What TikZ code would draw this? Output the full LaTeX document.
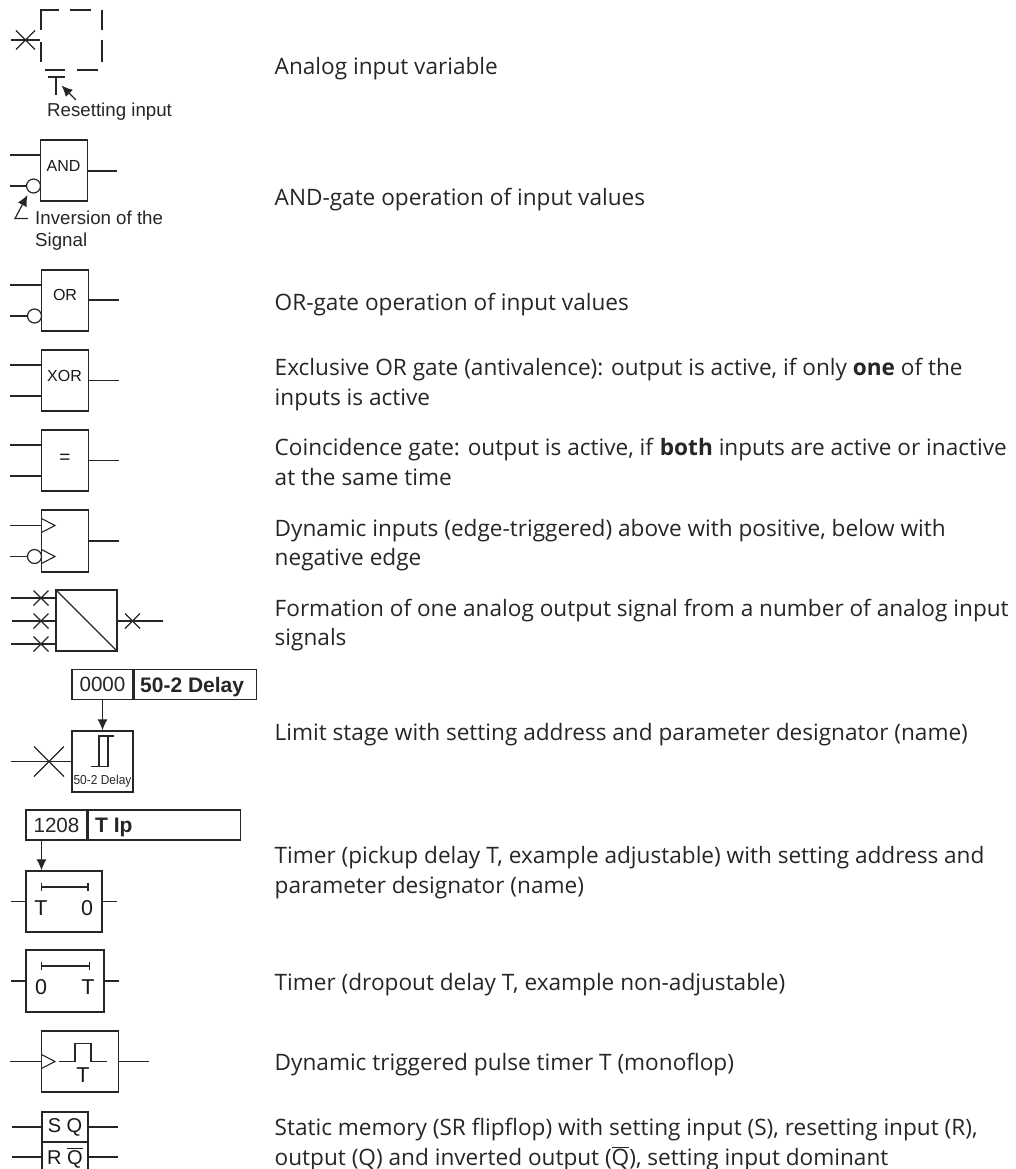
\documentclass[tikz,border=0pt]{standalone}
\usepackage{fontspec}
\setmainfont{Open Sans}
\newfontfamily\symfont{Liberation Sans}
\usetikzlibrary{arrows.meta}
\tikzset{
 x=1pt,y=-1pt,
 gatebox/.style={draw,rectangle,inner sep=0pt,minimum width=#1,minimum height=61pt,line width=1.3pt,font=\symfont\fontsize{16}{16}\selectfont},
 gatebox/.default=46.5pt,
 hdr/.style={draw,rectangle,inner sep=0pt,minimum height=30pt,line width=1.3pt,font=\symfont\fontsize{20.6}{20.6}\selectfont},
 hdrbold/.style={anchor=base west,inner sep=0pt,text=black!85,font=\symfont\bfseries\fontsize{21}{21}\selectfont},
 inv/.style={draw,circle,inner sep=0pt,minimum size=14pt,line width=1.2pt,fill=white},
 desc/.style={anchor=base west,inner sep=0pt,text=black!85,font=\fontsize{22.6}{30}\selectfont},
 note/.style={anchor=base west,inner sep=0pt,text=black!85,font=\symfont\fontsize{18.7}{18.7}\selectfont},
 lbl/.style={inner sep=0pt,text=black!90,font=\symfont\fontsize{21.5}{21.5}\selectfont},
 srlbl/.style={anchor=base,inner sep=0pt,text=black!90,font=\symfont\fontsize{20}{20}\selectfont},
 gatetext/.style={inner sep=0pt,text=black!90,font=\symfont\fontsize{16}{16}\selectfont},
 sig/.style={line width=1.2pt},
 arr/.style={-{Latex[length=11pt,width=10pt]},line width=1.2pt},
}
\newcommand{\xmark}[3]{\draw[sig] (#1-#3,#2-#3) -- (#1+#3,#2+#3) (#1-#3,#2+#3) -- (#1+#3,#2-#3);}
\newcommand{\trig}[2]{\draw[line width=1.1pt] (#1,#2-7) -- (#1+13.5,#2) -- (#1,#2+7);}
\begin{document}
\begin{tikzpicture}[color=black!85]
\useasboundingbox (0,0) rectangle (1016,1169);
\clip (0,0) rectangle (1016,1169);
% --- analog input
\draw[sig] (41,30) -- (41,10) -- (59,10) (70,10) -- (91,10) (102,10) -- (102,30) (102,40) -- (102,62)
  (41,42) -- (41,62) (45,70) -- (65,70) (77,70) -- (98,70);
\coordinate (ai) at (11,40); \coordinate (aiEnd) at (40,40);
\draw[sig] (ai) -- (aiEnd);
\xmark{25.5}{40}{9.5}
\draw[line width=2.4pt] (48,77) -- (65,77);
\coordinate (rs) at (56,77); \coordinate (rsEnd) at (56,95);
\draw[sig] (rs) -- (rsEnd);
\coordinate (ra) at (76,100); \coordinate (rb) at (61.5,85.5);
\draw[arr] (ra) -- (rb);
\node[note] (tReset) at (47,116.5) {Resetting input};
% --- AND
\node[gatebox] (and) at (64,170.5) {};
\node[gatetext] (andT) at (63.5,166) {AND};
\coordinate (a1) at (10,155); \coordinate (a2) at (10,186); \coordinate (a3) at (117,171);
\node[inv] (andI) at (33.5,186) {};
\draw[sig] (a1) -- (a1 -| and.west);
\draw[sig] (a2) -- (andI);
\draw[sig] (a3) -- (a3 -| and.east);
\coordinate (ib) at (28,218.5); \coordinate (ic) at (15,218.5); \coordinate (id) at (27.5,195);
\draw[arr] (ib) -- (ic) -- (id);
\node[note] (tInv) at (35,224) {Inversion of the};
\node[note] (tSig) at (35,246.5) {Signal};
% --- OR
\node[gatebox] (or) at (65,300.5) {};
\node[gatetext] (orT) at (65,295) {OR};
\coordinate (o1) at (10,285); \coordinate (o2) at (10,316); \coordinate (o3) at (119,300);
\node[inv] (orI) at (34.5,316) {};
\draw[sig] (o1) -- (o1 -| or.west);
\draw[sig] (o2) -- (orI);
\draw[sig] (o3) -- (o3 -| or.east);
% --- XOR
\node[gatebox] (xor) at (65,380.5) {};
\node[gatetext] (xorT) at (64.5,376) {XOR};
\coordinate (x1) at (10,365); \coordinate (x2) at (10,396); \coordinate (x3) at (119,380.5);
\draw[sig] (x1) -- (x1 -| xor.west);
\draw[sig] (x2) -- (x2 -| xor.west);
\draw[sig] (x3) -- (x3 -| xor.east);
% --- equal
\node[gatebox] (eq) at (65,460.5) {};
\node[gatetext,font=\symfont\fontsize{19}{19}\selectfont] (eqT) at (65,459) {=};
\coordinate (e1) at (10,445); \coordinate (e2) at (10,476); \coordinate (e3) at (119,460.5);
\draw[sig] (e1) -- (e1 -| eq.west);
\draw[sig] (e2) -- (e2 -| eq.west);
\draw[sig] (e3) -- (e3 -| eq.east);
% --- dynamic inputs
\node[gatebox,minimum height=62pt] (dyn) at (65,541) {};
\coordinate (d1) at (10,525.5); \coordinate (d2) at (10,556.5); \coordinate (d3) at (119,541);
\trig{41.5}{525.5}
\trig{41.5}{556.5}
\node[inv,fill=none] (dynI) at (34.5,556.5) {};
\draw[sig] (d1) -- (d1 -| dyn.west);
\draw[sig] (d2) -- (dynI);
\draw[sig] (d3) -- (d3 -| dyn.east);
% --- converter
\node[gatebox,minimum width=61pt] (conv) at (86.5,620.5) {};
\draw[sig] (conv.north west) -- (conv.south east);
\coordinate (c1) at (11,598); \coordinate (c2) at (12,621); \coordinate (c3) at (11,644); \coordinate (c4) at (163,621);
\draw[sig] (c1) -- (c1 -| conv.west);
\draw[sig] (c2) -- (c2 -| conv.west);
\draw[sig] (c3) -- (c3 -| conv.west);
\draw[sig] (c4) -- (c4 -| conv.east);
\xmark{41}{598}{7.5}
\xmark{41}{621}{7.5}
\xmark{41}{644}{7.5}
\xmark{132.5}{621}{7.5}
% --- limit stage
\node[hdr,minimum width=61pt] (la) at (102.5,684.5) {0000};
\node[hdr,minimum width=122pt,anchor=west] (lb) at (la.east) {};
\node[hdrbold] (lbT) at (140,692) {50-2 Delay};
\node[gatebox,minimum width=61pt] (lim) at (102.5,761.5) {};
\draw[arr] (la) -- (lim);
\coordinate (l1) at (11,761.5);
\draw[sig] (l1) -- (l1 -| lim.west);
\xmark{49}{761.5}{15}
\draw[sig] (91,766.5) -- (108,766.5) -- (108,736) (99,766.5) -- (99,736) -- (114,736);
\node[inner sep=0pt,text=black!85,font=\symfont\fontsize{13}{13}\selectfont,xscale=.92] (limT) at (102.5,781) {50-2 Delay};
% --- pickup timer
\node[hdr,minimum width=61pt] (ta) at (56.5,825) {1208};
\node[hdr,minimum width=152pt,anchor=west] (tb) at (ta.east) {};
\node[hdrbold] (tbT) at (95,832) {T Ip};
\node[gatebox,minimum width=76pt] (pu) at (64,901.5) {};
\coordinate (tc) at (41.5,840);
\draw[arr] (tc) -- (tc |- pu.north);
\coordinate (p1) at (11,901.5); \coordinate (p2) at (117,901.5);
\draw[sig] (p1) -- (p1 -| pu.west);
\draw[sig] (p2) -- (p2 -| pu.east);
\draw[sig] (41.5,883) -- (41.5,891) (41.5,887) -- (88,887) (88,883) -- (88,891);
\node[lbl] (puT) at (41,908) {T};
\node[lbl] (pu0) at (87,908) {0};
% --- dropout timer
\node[gatebox,minimum width=78pt,minimum height=62pt] (dr) at (65,981) {};
\coordinate (r1) at (11,981); \coordinate (r2) at (119,981);
\draw[sig] (r1) -- (r1 -| dr.west);
\draw[sig] (r2) -- (r2 -| dr.east);
\draw[sig] (41.5,962) -- (41.5,970) (41.5,966) -- (89.5,966) (89.5,962) -- (89.5,970);
\node[lbl] (dr0) at (41,987.5) {0};
\node[lbl] (drT) at (88,987.5) {T};
% --- pulse timer
\node[gatebox,minimum width=77pt] (pl) at (80,1061.5) {};
\coordinate (m1) at (10,1061.5); \coordinate (m2) at (149,1061.5);
\draw[sig] (m1) -- (m1 -| pl.west);
\draw[sig] (m2) -- (m2 -| pl.east);
\trig{41.5}{1061.5}
\draw[sig] (59,1061.5) -- (75,1061.5) -- (75,1043.5) -- (91,1043.5) -- (91,1061.5) -- (107,1061.5);
\node[lbl] (plT) at (83,1075) {T};
% --- SR flipflop
\node[hdr,minimum width=46pt] (sq) at (65,1127) {};
\node[hdr,minimum width=46pt] (rq) at (65,1157) {};
\node[srlbl] (sqT) at (65,1132) {S Q};
\node[srlbl] (rqT) at (65,1164) {R $\overline{\mbox{Q}}$};
\coordinate (s1) at (12,1127); \coordinate (s2) at (12,1157); \coordinate (s3) at (118,1127); \coordinate (s4) at (118,1157);
\draw[sig] (s1) -- (s1 -| sq.west);
\draw[sig] (s2) -- (s2 -| rq.west);
\draw[sig] (s3) -- (s3 -| sq.east);
\draw[sig] (s4) -- (s4 -| rq.east);
% --- descriptions
\node[desc] (t1) at (274.5,75) {Analog input variable};
\node[desc] (t2) at (274.5,205) {AND-gate operation of input values};
\node[desc] (t3) at (274.5,310) {OR-gate operation of input values};
\node[desc] (t4a) at (274.5,375) {Exclusive OR gate (antivalence): output is active, if only \textbf{one} of the};
\node[desc] (t4b) at (274.5,405) {inputs is active};
\node[desc] (t5a) at (274.5,455) {Coincidence gate: output is active, if \textbf{both} inputs are active or inactive};
\node[desc] (t5b) at (274.5,485) {at the same time};
\node[desc] (t6a) at (274.5,536) {Dynamic inputs (edge-triggered) above with positive, below with};
\node[desc] (t6b) at (274.5,565) {negative edge};
\node[desc] (t7a) at (274.5,616) {Formation of one analog output signal from a number of analog input};
\node[desc] (t7b) at (274.5,645) {signals};
\node[desc] (t8) at (274.5,740) {Limit stage with setting address and parameter designator (name)};
\node[desc] (t9a) at (274.5,863) {Timer (pickup delay T, example adjustable) with setting address and};
\node[desc] (t9b) at (274.5,893) {parameter designator (name)};
\node[desc] (t10) at (274.5,990) {Timer (dropout delay T, example non-adjustable)};
\node[desc] (t11) at (274.5,1070.5) {Dynamic triggered pulse timer T (monoflop)};
\node[desc] (t12a) at (274.5,1135) {Static memory (SR flipflop) with setting input (S), resetting input (R),};
\node[desc] (t12b) at (274.5,1165) {output (Q) and inverted output ($\overline{\mbox{Q}}$), setting input dominant};
\end{tikzpicture}
\end{document}
